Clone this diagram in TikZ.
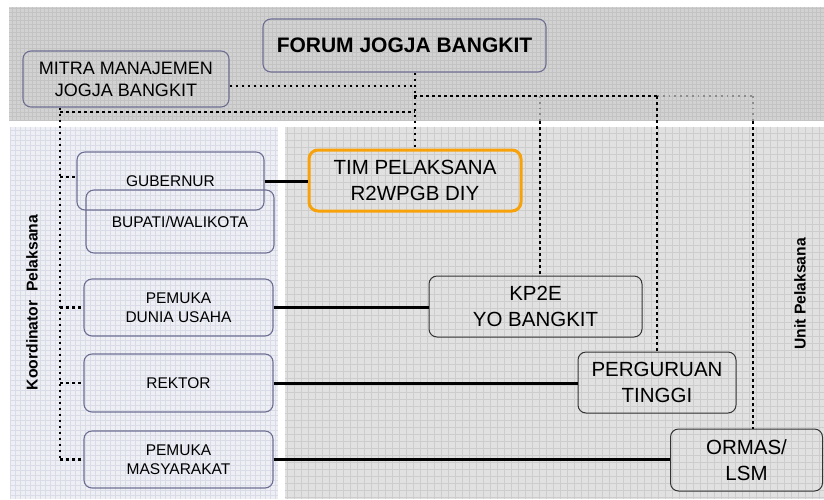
\documentclass[tikz,border=0pt]{standalone}
\usepackage{fontspec}
\setmainfont{Liberation Sans}
\definecolor{pitafill}{HTML}{D2D2D2}
\definecolor{pitagrid}{HTML}{C3C3C3}
\definecolor{kirifill}{HTML}{EDEFF5}
\definecolor{kirigrid}{HTML}{D9DBE7}
\definecolor{kananfill}{HTML}{E1E1E1}
\definecolor{kanangrid}{HTML}{CDCDCD}
\definecolor{garisbiru}{HTML}{6E6E92}
\definecolor{oranye}{HTML}{F7A20A}
\newcommand\hurufkecil{\fontsize{15.5}{19}\selectfont}
\newcommand\hurufsedang{\fontsize{18}{22}\selectfont}
\newcommand\hurufbesar{\fontsize{20.5}{26}\selectfont}
\begin{document}
\begin{tikzpicture}[x=1pt,y=-1pt,
	kotak/.style={draw=garisbiru, line width=1.1pt, rounded corners=8pt, align=center, inner sep=0pt},
	kotakunit/.style={draw=black!80, line width=1pt, rounded corners=8pt, align=center, inner sep=0pt, font=\hurufbesar},
	titik/.style={line width=2.9pt, dash pattern=on 2.9pt off 3.1pt},
	titikabu/.style={line width=1.8pt, dash pattern=on 1.8pt off 4pt, black!45},
	tebal/.style={line width=3pt}]
	\useasboundingbox (0,0) rectangle (824,499);
	\fill[white] (0,0) rectangle (824,499);

	% latar
	\fill[pitafill] (9,7) rectangle (824,121);
	\draw[pitagrid, line width=0.6pt, step=4pt] (9,7) grid (824,121);
	\fill[kirifill] (10,127) rectangle (278,499);
	\draw[kirigrid, line width=0.6pt, step=5pt] (10,127) grid (278,499);
	\fill[kananfill] (285,127) rectangle (824,499);
	\draw[kanangrid, line width=0.6pt, step=7pt] (285,127) grid (824,499);

	\node[kotak, minimum width=283pt, minimum height=53pt, font=\bfseries\fontsize{21}{25}\selectfont] (forum) at (404.5,45.5) {FORUM JOGJA BANGKIT};
	\node[kotak, minimum width=206pt, minimum height=56pt, font=\hurufsedang] (mitra) at (126,79) {MITRA MANAJEMEN\\JOGJA BANGKIT};

	\node[kotak, minimum width=187pt, minimum height=58pt, font=\hurufkecil] (gub) at (170.5,181) {GUBERNUR};
	\node[kotak, minimum width=188pt, minimum height=63pt, font=\hurufkecil] (bupati) at (180,221.5) {BUPATI/WALIKOTA};
	\node[kotak, minimum width=189pt, minimum height=57pt, font=\hurufkecil] (dunia) at (178.5,307.5) {PEMUKA\\DUNIA USAHA};
	\node[kotak, minimum width=189pt, minimum height=58pt, font=\hurufkecil] (rektor) at (178.5,383) {REKTOR};
	\node[kotak, minimum width=189pt, minimum height=57pt, font=\hurufkecil] (masy) at (178.5,459.5) {PEMUKA\\MASYARAKAT};

	\node[draw=oranye, line width=3pt, rounded corners=9pt, align=center, inner sep=0pt, minimum width=212pt, minimum height=61pt, font=\hurufbesar] (tim) at (415,180.5) {TIM PELAKSANA\\R2WPGB DIY};
	\node[kotakunit, minimum width=213pt, minimum height=61pt] (kp2e) at (535.5,306.5) {KP2E\\YO BANGKIT};
	\node[kotakunit, minimum width=158pt, minimum height=61pt] (pt) at (657,382.5) {PERGURUAN\\TINGGI};
	\node[kotakunit, minimum width=152pt, minimum height=62pt] (ormas) at (746.5,460) {ORMAS/\\LSM};

	\node[rotate=90, font=\bfseries\fontsize{15.7}{18}\selectfont] (koord) at (32,302.5) {Koordinator\ \ Pelaksana};
	\node[rotate=90, font=\bfseries\fontsize{15.7}{18}\selectfont] (unit) at (800,294) {Unit Pelaksana};

	\coordinate (kiri) at (60,112);
	\coordinate (kanan) at (414,96);
	\coordinate (cabkp) at (540,96);
	\coordinate (cabor) at (753,96);

	% garis koordinasi
	\draw[titik] ([yshift=-7pt]mitra.east) -- ([yshift=-7pt]mitra.east -| tim.north);
	\draw[titik] (tim.north |- forum.south) -- (tim.north);
	\draw[titik] (mitra.south -| kiri) -- (kiri |- masy.west);
	\draw[titik] (kiri) -- (kiri -| tim.north);
	\draw[titik] (kiri |- gub.west) ++(0,-4) -- ([yshift=4pt]gub.west);
	\foreach \n in {dunia,rektor,masy}{
		\draw[titik] (kiri |- \n.west) -- (\n.west);
	}
	\draw[titik] (kanan) -- (pt.north |- kanan);
	\draw[titikabu] (pt.north |- kanan) -- (cabor);
	\draw[titikabu] (cabkp) -- (540,121);
	\draw[titikabu] (cabor) -- (753,121);
	\draw[titik] (540,121) -- (cabkp |- kp2e.north);
	\draw[titik] (pt.north |- kanan) -- (pt.north);
	\draw[titik] (753,121) -- (cabor |- ormas.north);

	% garis pelaksana
	\draw[tebal] (gub.east) -- (gub.east -| tim.west);
	\draw[tebal] (dunia.east) -- (dunia.east -| kp2e.west);
	\draw[tebal] (rektor.east) -- (rektor.east -| pt.west);
	\draw[tebal] (masy.east) -- (masy.east -| ormas.west);
\end{tikzpicture}
\end{document}
